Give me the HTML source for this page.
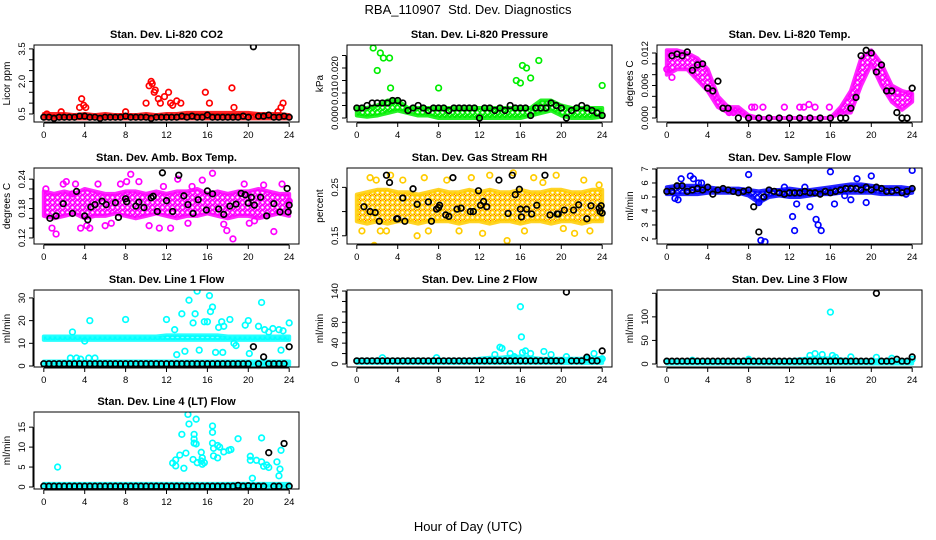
<!DOCTYPE html>
<html><head><meta charset="utf-8"><title>RBA_110907 Std. Dev. Diagnostics</title>
<style>
html,body{margin:0;padding:0;background:#fff;}
svg{display:block;font-family:"Liberation Sans",Arial,sans-serif;}
</style></head>
<body>
<svg id="chart" width="936" height="540" viewBox="0 0 936 540">
<text x="468" y="14" text-anchor="middle" font-size="13">RBA_110907&#160; Std. Dev. Diagnostics</text>
<text x="468" y="531" text-anchor="middle" font-size="13">Hour of Day (UTC)</text>
</svg>
<script>
// ---- shared x data ----
const hours=[0,1,2,3,4,5,6,7,8,9,10,11,12,13,14,15,16,17,18,19,20,21,22,23,24];
const halfHours=[0,0.5,1,1.5,2,2.5,3,3.5,4,4.5,5,5.5,6,6.5,7,7.5,8,8.5,9,9.5,10,10.5,11,11.5,12,12.5,13,13.5,14,14.5,15,15.5,16,16.5,17,17.5,18,18.5,19,19.5,20,20.5,21,21.5,22,22.5,23,23.5,24];
const hourTicks=[0,4,8,12,16,20,24];

// ---- CO2 ----
const co2Hi=[0.5,0.5,0.5,0.45,0.5,0.45,0.5,0.45,0.45,0.45,0.5,0.45,0.5,0.5,0.55,0.55,0.55,0.55,0.55,0.55,0.55,0.5,0.5,0.5,0.45];
const co2Lo=[0.3,0.3,0.3,0.3,0.3,0.3,0.3,0.3,0.3,0.3,0.3,0.3,0.3,0.3,0.3,0.3,0.3,0.3,0.3,0.3,0.3,0.3,0.3,0.3,0.3];
const co2OutX=[0.3,1.7,3.5,3.7,3.9,4.1,8.0,10.0,10.3,10.5,10.6,10.8,10.9,11.2,11.4,11.8,12.2,12.4,12.6,13.0,13.4,15.8,16.2,18.4,18.6,22.9,23.2,23.4];
const co2OutY=[0.5,0.6,0.8,1.2,0.9,0.8,0.6,1.0,1.8,2.0,1.9,1.5,1.6,1.2,1.0,1.3,1.5,1.0,0.9,1.1,1.0,1.5,1.0,1.7,0.8,0.6,0.8,1.0];
const co2Black=[0.35,0.35,0.3,0.35,0.35,0.35,0.35,0.4,0.4,0.35,0.35,0.3,0.35,0.35,0.35,0.35,0.4,0.35,0.35,0.35,0.35,0.3,0.35,0.35,0.35,0.35,0.35,0.4,0.35,0.4,0.35,0.35,0.45,0.35,0.35,0.35,0.35,0.35,0.35,0.4,0.35,3.6,0.4,0.4,0.45,0.35,0.35,0.4,0.35];

// ---- Pressure ----
const presHi=[0.004,0.004,0.005,0.007,0.007,0.004,0.004,0.004,0.004,0.004,0.004,0.004,0.004,0.004,0.004,0.004,0.004,0.004,0.007,0.007,0.005,0.004,0.004,0.004,0.004];
const presLo=[0.001,0.0005,0.001,0.002,0.003,0.002,0.001,0.001,0,0,0,0,0,0,0,0,0,0.001,0.002,0.003,0.001,0,0,0,0.0005];
const presOutX=[1.6,2.3,2.6,3.2,2.0,3.3,8.0,16.2,16.6,17.8,16.0,15.6,17.0,24];
const presOutY=[0.028,0.026,0.024,0.024,0.019,0.012,0.012,0.021,0.020,0.023,0.014,0.015,0.016,0.013];
const presBlack=[0.004,0.004,0.005,0.006,0.006,0.006,0.006,0.007,0.007,0.006,0.003,0.004,0.005,0.004,0.003,0.004,0.004,0.004,0.003,0.004,0.004,0.004,0.004,0.004,0,0.004,0.004,0.003,0.004,0.003,0.005,0.004,0.004,0.004,0.001,0.004,0.004,0.004,0.006,0.005,0.004,0,0.003,0.004,0.005,0.004,0.003,0.002,0.001];

// ---- Li-820 Temp ----
const tempHi=[0.0125,0.0125,0.012,0.011,0.009,0.004,0.002,0.002,0.0005,0,0,0,0,0,0,0,0,0.002,0.005,0.011,0.0125,0.010,0.006,0.005,0.0045];
const tempLo=[0.008,0.009,0.009,0.007,0.005,0.002,0.001,0.001,0,0,0,0,0,0,0,0,0,0.001,0.001,0.006,0.010,0.006,0.003,0.0015,0.003];
const tempOutX=[6.1,6.5,8.3,8.6,9.4,11.5,13.0,13.4,13.9,14.5,15.9,17.0,22.6,23.7,0,0.5];
const tempOutY=[0.001,0.001,0.002,0.002,0.002,0.002,0.002,0.002,0.0025,0.002,0.002,0.001,0.0045,0.0045,0.009,0.0075];
const tempBlackX=[0.5,1.0,1.5,2.0,2.5,3.0,3.5,4.0,4.5,5.0,5.5,6.0,7.0,8.0,9.0,10.0,11.0,12.0,13.0,14.0,15.0,16.0,17.0,17.5,18.0,18.5,19.0,19.5,20.0,20.5,21.0,21.5,22.0,22.5,23.0,23.5,24.0];
const tempBlackY=[0.0115,0.0118,0.0115,0.0122,0.0088,0.0098,0.0100,0.0055,0.0050,0.0068,0.0018,0.0018,0,0,0,0,0,0,0,0,0,0,0,0,0.0018,0.0038,0.0115,0.0125,0.0120,0.0085,0.0098,0.0050,0.0050,0.0010,0,0,0.0055];

// ---- Amb Box Temp ----
const ambHi=[0.215,0.21,0.215,0.21,0.22,0.215,0.21,0.21,0.215,0.215,0.21,0.215,0.21,0.215,0.215,0.22,0.21,0.215,0.21,0.215,0.215,0.22,0.215,0.21,0.21];
const ambLo=[0.165,0.16,0.165,0.17,0.16,0.165,0.165,0.17,0.165,0.16,0.165,0.17,0.165,0.16,0.165,0.165,0.17,0.165,0.16,0.165,0.165,0.16,0.165,0.17,0.165];
const ambOutX=[0.2,0.8,1.2,1.9,2.2,2.8,3.1,3.6,4.2,4.5,5.3,6.0,6.6,7.5,8.1,8.5,9.3,10.3,11.3,11.7,12.4,13.1,14.1,14.5,15.5,16.5,17.6,17.9,18.5,19.6,20.1,20.6,21.5,22.5,23.3,24];
const ambOutY=[0.22,0.14,0.128,0.23,0.235,0.21,0.23,0.14,0.145,0.14,0.23,0.145,0.15,0.23,0.235,0.25,0.235,0.145,0.14,0.225,0.14,0.24,0.15,0.225,0.238,0.252,0.148,0.135,0.118,0.23,0.15,0.155,0.228,0.133,0.23,0.195];
const ambBlackX=[0.6,1.2,1.9,2.8,3.2,4.0,4.3,4.6,5.0,5.7,6.1,7.0,7.3,8.0,8.1,9.0,9.3,9.8,10.5,10.7,11.1,11.6,12.0,12.6,13.2,13.7,14.1,14.6,15.1,15.9,16.0,16.5,17.1,17.6,18.2,18.8,19.3,19.7,20.0,20.3,20.6,21.2,21.8,22.5,23.1,23.8,23.9,24.0];
const ambBlackY=[0.16,0.165,0.19,0.17,0.215,0.165,0.157,0.183,0.188,0.195,0.188,0.192,0.162,0.200,0.194,0.185,0.193,0.182,0.202,0.205,0.174,0.253,0.196,0.174,0.248,0.206,0.188,0.170,0.198,0.177,0.216,0.210,0.179,0.168,0.185,0.189,0.211,0.208,0.191,0.203,0.187,0.203,0.165,0.19,0.173,0.221,0.173,0.187];

// ---- Gas Stream RH ----
const rhHi=[0.235,0.24,0.245,0.245,0.24,0.24,0.235,0.24,0.245,0.24,0.24,0.245,0.24,0.245,0.24,0.24,0.245,0.24,0.24,0.245,0.245,0.24,0.24,0.245,0.245];
const rhLo=[0.18,0.175,0.18,0.175,0.18,0.18,0.175,0.18,0.18,0.18,0.175,0.18,0.18,0.175,0.18,0.18,0.175,0.18,0.18,0.175,0.18,0.18,0.175,0.18,0.18];
const rhOutX=[0.5,1.3,1.9,2.3,1.7,2.9,3.3,4.5,5.9,6.6,7.0,8.8,10.0,11.2,12.3,13.0,14.7,15.3,16.4,17.3,18.2,19.5,20.2,21.3,22.2,22.8,23.7];
const rhOutY=[0.16,0.27,0.265,0.16,0.13,0.16,0.275,0.265,0.15,0.27,0.16,0.265,0.16,0.27,0.155,0.275,0.14,0.28,0.16,0.27,0.26,0.275,0.165,0.155,0.265,0.16,0.255];
const rhBlackX=[0.7,1.3,1.8,2.2,2.9,3.2,3.9,4.0,4.5,4.7,5.5,5.9,7.0,7.3,7.8,8.0,8.1,8.7,9.0,9.4,9.8,10.2,11.1,11.4,11.9,12.1,12.4,12.7,13.9,14.8,15.2,15.5,15.9,16.0,16.1,16.6,17.1,17.6,18.4,18.9,19.6,19.7,20.3,21.2,21.7,22.5,22.9,23.7,23.8,23.9,24.0];
const rhBlackY=[0.21,0.2,0.198,0.18,0.275,0.26,0.185,0.185,0.228,0.18,0.247,0.215,0.22,0.18,0.205,0.208,0.213,0.193,0.19,0.27,0.205,0.207,0.2,0.2,0.243,0.213,0.221,0.21,0.265,0.196,0.275,0.235,0.246,0.205,0.189,0.205,0.195,0.213,0.275,0.193,0.195,0.195,0.203,0.203,0.214,0.185,0.212,0.207,0.2,0.212,0.197];

// ---- Sample Flow ----
const sfHi=[5.7,5.8,5.8,5.8,5.7,5.6,5.6,5.6,5.5,5.4,5.5,5.5,5.6,5.5,5.5,5.6,5.7,5.8,5.9,5.9,5.8,5.7,5.7,5.7,5.6];
const sfLo=[5.2,5.2,5.2,5.2,5.3,5.3,5.3,5.3,5.1,4.6,5.0,5.1,5.0,5.0,5.1,5.2,5.2,5.3,5.3,5.3,5.3,5.2,5.2,5.2,5.3];
const sfOutX=[0.8,1.1,1.4,2.3,2.6,3.1,3.4,8.0,9.2,9.6,9.0,11.5,12.3,12.5,12.7,13.5,14.0,14.6,14.8,15.1,16.0,16.4,17.4,18.0,18.6,19.5,20.0,24,23.4];
const sfOutY=[4.9,4.8,6.3,6.5,6.3,6.0,6.0,6.6,1.9,1.8,4.6,5.7,3.6,2.6,4.5,5.7,4.3,3.4,3.0,2.6,6.8,4.5,5.1,4.8,6.3,4.6,6.5,6.9,5.2];
const sfBlack=[5.4,5.4,5.8,5.8,5.4,5.5,5.6,5.5,5.7,5.2,5.5,5.6,5.5,5.4,5.3,5.4,5.5,4.3,2.5,5.0,5.5,5.4,5.3,5.2,5.3,5.3,5.3,5.4,5.3,5.3,5.2,5.4,5.3,5.4,5.5,5.6,5.6,5.6,5.5,5.7,5.5,5.7,5.6,5.4,5.4,5.5,5.3,5.4,5.6];

// ---- Line 1 Flow ----
const l1Hi=[13,13,13,13,13,13,13,13,13,13,13,13,13.5,13.5,13.5,13.5,13.5,13.5,13,13,13,13,13,13,13];
const l1Lo=[11.5,11.5,11.5,11.5,11.5,11.5,11.5,11.5,11.5,11.5,11.5,11.5,11.5,11.5,11.5,11.5,11.5,11.5,11.5,11.5,11.5,11.5,11.5,11.5,11.5];
const l1LowHi=[2,2,2,2,2,2,2,2,2,2,2,2,2,2,2,2,2,2,2,2,2,2,2,2,2];
const l1LowLo=[0.5,0.5,0.5,0.5,0.5,0.5,0.5,0.5,0.5,0.5,0.5,0.5,0.5,0.5,0.5,0.5,0.5,0.5,0.5,0.5,0.5,0.5,0.5,0.5,0.5];
const l1OutX=[2.8,4.0,2.6,3.2,3.6,4.4,5.0,4.5,8.0,12.0,12.8,13.0,13.5,13.8,14.2,14.6,14.8,15.0,15.2,15.7,16.0,16.2,16.3,16.5,16.8,17.1,17.4,17.5,17.6,18.2,18.6,18.8,19.7,20.0,20.1,21.0,21.3,21.6,22.0,22.4,23.0,23.4,23.2,24];
const l1OutY=[15,11,3.5,3.5,3,3.5,3.5,20,20.5,20.5,16,5,23,6.5,29,19,23,33,7,19.5,19.5,31,24,26,6,17,19.5,6,17.5,20.5,10,9,18,20,5.5,17.5,28,16,15,16.5,16,15.5,7,19];
const l1Black=[1,1,1,1,1,1,1,1,1,1,1,1,1,1,1,1,1,1,1,1,1,1,1,1,1,1,1,1,1,1,1,1,1,1,1,1,1,1,1,1,1,8.5,1,4,1,1,1,1,8.5];

// ---- Line 2 Flow ----
const l2Hi=[8,8,8,8,8,8,8,8,8,8,8,8,10,12,12,14,14,12,10,10,10,10,10,10,12];
const l2Lo=[2,2,2,2,2,2,2,2,2,2,2,2,2,2,2,2,2,2,2,2,2,2,2,2,2];
const l2OutX=[2.5,7.8,13.5,14.0,14.2,15.0,15.4,16.0,16.1,16.2,16.5,17.0,18.3,19.0,20.5,22.5,23.2,24];
const l2OutY=[12,12,18,32,30,20,14,110,52,22,25,20,24,18,14,10,20,10];
const l2Black=[6,6,6,6,6,6,6,6,6,6,6,6,6,6,6,6,6,6,6,6,6,6,6,6,6,6,6,6,6,6,6,6,6,6,6,6,6,6,6,6,6,138,6,6,6,13,6,6,25];

// ---- Line 3 Flow ----
const l3Hi=[7,7,7,7,7,7,7,7,7,7,7,7,8,10,12,12,12,10,8,8,8,8,8,8,8];
const l3Lo=[1,1,1,1,1,1,1,1,1,1,1,1,1,1,1,1,1,1,1,1,1,1,1,1,1];
const l3OutX=[2.5,8.0,14.0,14.5,15.2,16.0,16.2,16.5,18,20.5,22,24];
const l3OutY=[8,10,18,22,20,110,18,14,15,14,12,10];
const l3Black=[6,6,6,6,6,6,6,6,6,6,6,6,6,6,6,6,6,6,6,6,6,6,6,6,6,6,6,6,6,6,6,6,6,6,6,6,6,6,6,6,6,150,6,6,6,10,6,6,15];

// ---- Line 4 Flow ----
const l4Hi=[0.8,0.8,0.8,0.8,0.8,0.8,0.8,0.8,0.8,0.8,0.8,0.8,0.8,0.8,0.8,0.8,0.8,0.8,0.8,0.8,0.8,0.8,0.8,0.8,0.8];
const l4Lo=[0,0,0,0,0,0,0,0,0,0,0,0,0,0,0,0,0,0,0,0,0,0,0,0,0];
const l4OutX=[1.35,12.6,12.9,12.9,13.3,13.5,13.7,13.9,14.1,14.2,14.6,14.7,14.7,14.7,14.9,14.9,15.0,15.4,15.4,15.5,15.5,15.7,16.5,16.5,16.5,16.6,16.6,17.0,17.0,17.2,17.6,18.1,18.3,19.0,20.2,20.2,20.4,20.8,21.3,21.3,21.5,21.8,22.0,22.8,23.0,23.1,23.2];
const l4OutY=[5,6,6.8,5.3,8,13.2,4.7,8.5,18.2,15.8,6.9,13.2,12,11,17,10.8,6.1,6.5,8.7,7.3,5.7,6.1,13.7,15.3,11,7.8,9.7,10.4,7.3,10,8.8,9.2,9.4,12.1,7.7,6.7,2.2,6.7,12.3,6.3,5.2,5.5,4.9,6.3,2.8,4.5,9.2];
const l4Black=[0.2,0.2,0.2,0.2,0.2,0.2,0.2,0.2,0.2,0.2,0.2,0.2,0.2,0.2,0.2,0.2,0.2,0.2,0.2,0.2,0.2,0.2,0.2,0.2,0.2,0.2,0.2,0.2,0.2,0.2,0.2,0.2,0.2,0.2,0.2,0.2,0.2,0.2,0.4,0.2,0.3,0.2,0.2,0.2,8.6,0.2,0.2,10.9,0.2];

const NS='http://www.w3.org/2000/svg';
const svg=document.getElementById('chart');
function mk(tag,attrs,parent){const e=document.createElementNS(NS,tag);for(const k in attrs)e.setAttribute(k,attrs[k]);(parent||svg).appendChild(e);return e;}
const defs=mk('defs',{});

const panels=[
 {slug:'co2',title:'Stan. Dev. Li-820 CO2',ylab:'Licor ppm',col:'#ff0000',col2:'#ff0000',left:34,top:45,h:77,ymin:0.13,ymax:3.68,yt:[0.5,1,1.5,2,2.5,3,3.5],yl:{'0.5':'0.5','2':'2.0','3.5':'3.5'},bands:[[co2Lo,co2Hi]],ox:co2OutX,oy:co2OutY,bx:halfHours,by:co2Black},
 {slug:'pressure',title:'Stan. Dev. Li-820 Pressure',ylab:'kPa',col:'#00ee00',col2:'#00ee00',left:347,top:45,h:77,ymin:-0.0016,ymax:0.0292,yt:[0,0.005,0.01,0.015,0.02,0.025],yl:{'0':'0.000','0.01':'0.010','0.02':'0.020'},bands:[[presLo,presHi]],ox:presOutX,oy:presOutY,bx:halfHours,by:presBlack},
 {slug:'li820-temp',title:'Stan. Dev. Li-820 Temp.',ylab:'degrees C',col:'#ff00ff',col2:'#ff00ff',left:657,top:45,h:77,ymin:-0.00074,ymax:0.01348,yt:[0,0.002,0.004,0.006,0.008,0.01,0.012],yl:{'0':'0.000','0.006':'0.006','0.012':'0.012'},bands:[[tempLo,tempHi]],ox:tempOutX,oy:tempOutY,bx:tempBlackX,by:tempBlackY},
 {slug:'amb-box-temp',title:'Stan. Dev. Amb. Box Temp.',ylab:'degrees C',col:'#ff00ff',col2:'#ff00ff',left:34,top:168,h:76,ymin:0.1076,ymax:0.2628,yt:[0.12,0.14,0.16,0.18,0.2,0.22,0.24],yl:{'0.12':'0.12','0.18':'0.18','0.24':'0.24'},bands:[[ambLo,ambHi]],ox:ambOutX,oy:ambOutY,bx:ambBlackX,by:ambBlackY},
 {slug:'gas-stream-rh',title:'Stan. Dev. Gas Stream RH',ylab:'percent',col:'#ffcc00',col2:'#ff3300',left:347,top:168,h:76,ymin:0.133,ymax:0.29,yt:[0.15,0.2,0.25],yl:{'0.15':'0.15','0.25':'0.25'},bands:[[rhLo,rhHi]],ox:rhOutX,oy:rhOutY,bx:rhBlackX,by:rhBlackY},
 {slug:'sample-flow',title:'Stan. Dev. Sample Flow',ylab:'ml/min',col:'#0000ff',col2:'#0000ff',left:657,top:168,h:76,ymin:1.64,ymax:7.07,yt:[2,3,4,5,6,7],yl:{'2':'2','3':'3','4':'4','5':'5','6':'6','7':'7'},bands:[[sfLo,sfHi]],ox:sfOutX,oy:sfOutY,bx:halfHours,by:sfBlack},
 {slug:'line1-flow',title:'Stan. Dev. Line 1 Flow',ylab:'ml/min',col:'#00ffff',col2:'#00ffff',left:34,top:290,h:77,ymin:-0.44,ymax:33.5,yt:[0,10,20,30],yl:{'0':'0','10':'10','20':'20','30':'30'},bands:[[l1Lo,l1Hi],[l1LowLo,l1LowHi]],ox:l1OutX,oy:l1OutY,bx:halfHours,by:l1Black},
 {slug:'line2-flow',title:'Stan. Dev. Line 2 Flow',ylab:'ml/min',col:'#00ffff',col2:'#00ffff',left:347,top:290,h:77,ymin:-5.8,ymax:142,yt:[0,20,40,60,80,100,120,140],yl:{'0':'0','40':'40','80':'80','140':'140'},bands:[[l2Lo,l2Hi]],ox:l2OutX,oy:l2OutY,bx:halfHours,by:l2Black},
 {slug:'line3-flow',title:'Stan. Dev. Line 3 Flow',ylab:'ml/min',col:'#00ffff',col2:'#00ffff',left:657,top:290,h:77,ymin:-6.4,ymax:157,yt:[0,50,100,150],yl:{'0':'0','50':'50','100':'100'},bands:[[l3Lo,l3Hi]],ox:l3OutX,oy:l3OutY,bx:halfHours,by:l3Black},
 {slug:'line4-flow',title:'Stan. Dev. Line 4 (LT) Flow',ylab:'ml/min',col:'#00ffff',col2:'#00ffff',left:34,top:412,h:77,ymin:-0.5,ymax:18.8,yt:[0,5,10,15],yl:{'0':'0','5':'5','10':'10','15':'15'},bands:[[l4Lo,l4Hi]],ox:l4OutX,oy:l4OutY,bx:halfHours,by:l4Black}
];

panels.forEach(p=>{
 const W=265,L=p.left,T=p.top,H=p.h;
 const xs=v=>L+(v+0.96)/25.92*W;
 const ys=v=>T+H-(v-p.ymin)/(p.ymax-p.ymin)*H;
 // texture pattern of small circles
 const patId='pat-'+p.slug;
 const pat=mk('pattern',{id:patId,width:5,height:5,patternUnits:'userSpaceOnUse'},defs);
 mk('rect',{x:0,y:0,width:5,height:5,fill:'#fff'},pat);
 mk('circle',{cx:2.5,cy:2.5,r:2,fill:'none',stroke:p.col,'stroke-width':1.5},pat);
 mk('circle',{cx:0,cy:0,r:1,fill:p.col2},pat);
 mk('circle',{cx:5,cy:5,r:1,fill:p.col2},pat);
 const g=mk('g',{});
 
 
 const clipId='clip-'+p.slug;
 const cp=mk('clipPath',{id:clipId},g);
 mk('rect',{x:L,y:T,width:W,height:H},cp);
 const t=mk('text',{x:L+W/2,y:T-7,'text-anchor':'middle','font-size':'11','font-weight':'bold'},g);
 t.textContent=p.title;
 
 
 const plot=mk('g',{'clip-path':'url(#'+clipId+')'},g);
 
 
 p.bands.forEach(b=>{
  const lo=b[0],hi=b[1];
  let pts=[];
  hours.forEach((h,i)=>pts.push(xs(h)+','+ys(hi[i])));
  for(let i=hours.length-1;i>=0;i--)pts.push(xs(hours[i])+','+ys(lo[i]));
  const poly=mk('polygon',{points:pts.join(' '),fill:'url(#'+patId+')',stroke:p.col,'stroke-width':4,'stroke-linejoin':'round','stroke-opacity':0.85},plot);
  
  
 });
 for(let i=0;i<Math.min(p.ox.length,p.oy.length);i++){
  const c=mk('circle',{cx:xs(p.ox[i]),cy:ys(p.oy[i]),r:2.8,fill:'none',stroke:p.col,'stroke-width':1.7},plot);
  
  
 }
 for(let i=0;i<Math.min(p.bx.length,p.by.length);i++){
  const c=mk('circle',{cx:xs(p.bx[i]),cy:ys(p.by[i]),r:2.8,fill:'none',stroke:'#000','stroke-width':1.7},plot);
  
  
 }
 const box=mk('rect',{x:L,y:T,width:W,height:H,fill:'none',stroke:'#000','stroke-width':1},g);
 
 
 const xa=mk('g',{},g);
 
 
 mk('line',{x1:xs(0),x2:xs(24),y1:T+H+1,y2:T+H+1,stroke:'#000'},xa);
 hourTicks.forEach(h=>{
  mk('line',{x1:xs(h),x2:xs(h),y1:T+H+1,y2:T+H+5,stroke:'#000'},xa);
  const tl=mk('text',{x:xs(h),y:T+H+16,'text-anchor':'middle','font-size':'9.5'},xa);
  tl.textContent=String(h);
  
  
 });
 const ya=mk('g',{},g);
 
 
 mk('line',{x1:L-1,x2:L-1,y1:ys(p.yt[0]),y2:ys(p.yt[p.yt.length-1]),stroke:'#000'},ya);
 p.yt.forEach(v=>{
  const y=ys(v);
  mk('line',{x1:L-5,x2:L-1,y1:y,y2:y,stroke:'#000'},ya);
  const lab=p.yl[String(v)];
  if(lab){
   const tl=mk('text',{x:L-9,y:y,'text-anchor':'middle','font-size':'9.5',transform:'rotate(-90 '+(L-9)+' '+y+')'},ya);
   tl.textContent=lab;
   
   
  }
 });
 const yx=L-24,yy=T+H/2;
 const yt=mk('text',{x:yx,y:yy,'text-anchor':'middle','font-size':'10',transform:'rotate(-90 '+yx+' '+yy+')'},g);
 yt.textContent=p.ylab;
 
 
});
</script>
</body></html>
